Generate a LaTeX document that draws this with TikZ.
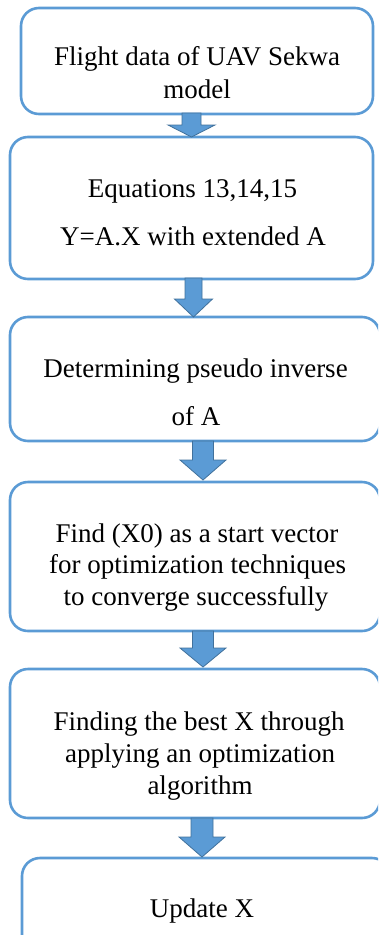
\documentclass[tikz,border=0pt]{standalone}
\usepackage{fontspec}
\setmainfont{Liberation Serif}
\definecolor{boxblue}{HTML}{5B9BD5}
\definecolor{arrowedge}{HTML}{41719C}

% downward block arrow: centre x, shaft top, head base, tip, shaft half-width, head half-width
\newcommand\blockarr[6]{%
  \draw[blockarrow] ({#1-#5},#2) -- ({#1+#5},#2) -- ({#1+#5},#3) -- ({#1+#6},#3)
    -- (#1,#4) -- ({#1-#6},#3) -- ({#1-#5},#3) -- cycle;}

\begin{document}
\begin{tikzpicture}[x=1pt,y=-1pt,
  stepbox/.style={draw=boxblue, line width=2.6pt, rounded corners=18pt, fill=white,
                  inner sep=0pt, outer sep=0pt},
  label/.style={anchor=base, inner sep=0pt, font=\fontsize{27}{32}\selectfont},
  blockarrow/.style={fill=boxblue, draw=arrowedge, line width=0.8pt, line join=miter}]
\useasboundingbox (0,0) rectangle (378,935);
\clip (0,0) rectangle (378,935);

% process boxes
\node[stepbox, minimum width=352pt, minimum height=106pt] (b1) at (197,61) {};
\node[stepbox, minimum width=363pt, minimum height=142pt] (b2) at (191.5,208) {};
\node[stepbox, minimum width=370pt, minimum height=124pt] (b3) at (195,379) {};
\node[stepbox, minimum width=370pt, minimum height=149pt] (b4) at (195,556.5) {};
\node[stepbox, minimum width=370pt, minimum height=149pt] (b5) at (195,743.5) {};
\node[stepbox, minimum width=368pt, minimum height=110pt] (b6) at (206,913) {};

% box texts
\node[label] (t1a) at (197,65) {Flight data of UAV Sekwa};
\node[label] (t1b) at (197,98) {model};
\node[label] (t2a) at (192.5,197) {Equations 13,14,15};
\node[label] (t2b) at (193,245) {Y=A.X with extended A};
\node[label] (t3a) at (195.5,377) {Determining pseudo inverse};
\node[label] (t3b) at (196,425) {of A};
\node[label] (t4a) at (197,542) {Find (X0) as a start vector};
\node[label] (t4b) at (197.5,573.5) {for optimization techniques};
\node[label] (t4c) at (196,605) {to converge successfully};
\node[label] (t5a) at (199,730) {Finding the best X through};
\node[label] (t5b) at (200,762) {applying an optimization};
\node[label] (t5c) at (200,794) {algorithm};
\node[label] (t6a) at (202,917) {Update X};

% block arrows between the boxes
\blockarr{191.5}{113}{125}{137}{9.5}{23.5}
\blockarr{193.5}{278}{299}{317}{8.5}{19}
\blockarr{203}{441}{460}{480}{10.5}{23}
\blockarr{203}{631}{648}{667}{10.5}{23}
\blockarr{202}{818}{837}{857}{11}{23}
\end{tikzpicture}
\end{document}
